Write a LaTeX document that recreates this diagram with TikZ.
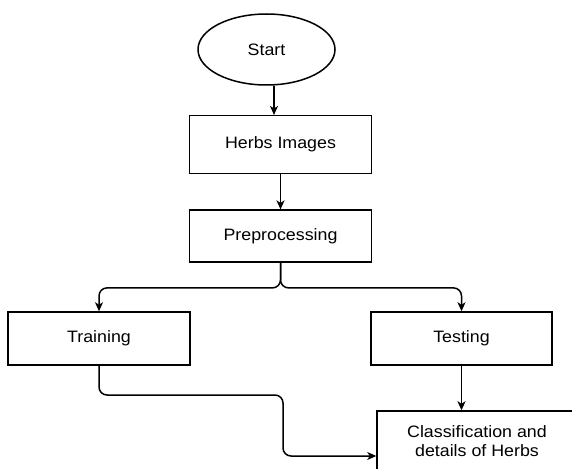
\documentclass[tikz,border=0pt]{standalone}
\usepackage{fontspec}
\setmainfont[FakeStretch=1.08]{Liberation Sans}
\usetikzlibrary{arrows.meta,shapes.geometric}
\begin{document}
\begin{tikzpicture}[x=1pt,y=-1pt,line width=1.5pt,
  box/.style={draw, rectangle, inner sep=0pt, align=center, font=\fontsize{16.5}{19}\selectfont},
  conn/.style={-{Stealth[length=9pt,width=8pt,inset=2.5pt]}, rounded corners=8pt}]
\clip (0,0) rectangle (572,468);
\node[box, ellipse, minimum width=137pt, minimum height=71pt] (start) at (266.5,49.5) {Start};
\node[box, minimum width=182.4pt, minimum height=57.6pt] (herbs) at (280.5,144.5) {Herbs Images};
\node[box, minimum width=182.4pt, minimum height=51.7pt] (pre) at (280.5,236) {Preprocessing};
\node[box, minimum width=182pt, minimum height=53pt] (train) at (99,338.5) {Training};
\node[box, minimum width=181pt, minimum height=53pt] (test) at (461.5,338.5) {Testing};
\node[box, minimum width=200pt, minimum height=61pt] (cls) at (477,441.5) {Classification and\\details of Herbs};
\coordinate (sx) at (274,0);
\coordinate (tj) at (283,395);
\coordinate (ce) at (0,456);
\draw[conn] (sx |- start.south) -- (sx |- herbs.north);
\draw[conn] (herbs.south) -- (pre.north);
\draw[conn] (pre.south) -- ++(0,25.3) -| (train.north);
\draw[conn] (pre.south) -- ++(0,25.3) -| (test.north);
\draw[conn] (train.south) |- (tj) |- (cls.west |- ce);
\draw[conn] (test.south) -- (test.south |- cls.north);
\end{tikzpicture}
\end{document}
